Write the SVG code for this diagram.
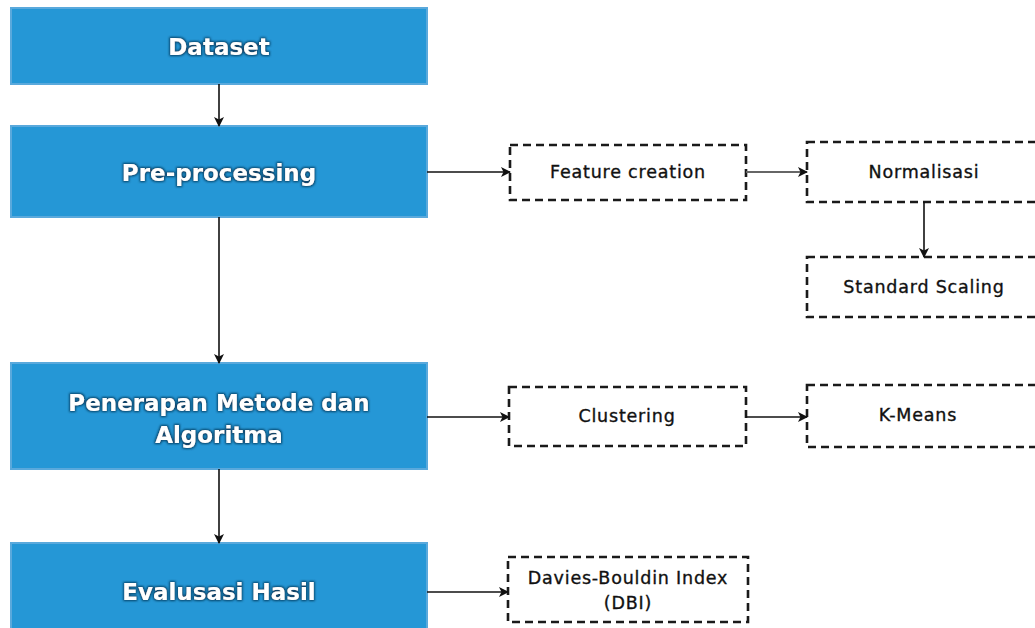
<svg xmlns="http://www.w3.org/2000/svg" width="1035" height="628" viewBox="0 0 1035 628">
  <defs>
    <marker id="arrow" viewBox="0 0 10 10" refX="9" refY="5" markerWidth="10" markerHeight="10" markerUnits="userSpaceOnUse" orient="auto">
      <path d="M0,0 L10,5 L0,10 L2.5,5 Z" fill="#111"/>
    </marker>
    <filter id="glow" x="-10%" y="-30%" width="120%" height="160%">
      <feMorphology in="SourceAlpha" operator="dilate" radius="1" result="thick"/>
      <feGaussianBlur in="thick" stdDeviation="1.2" result="blur"/>
      <feFlood flood-color="#0a3a5c" flood-opacity="0.9"/>
      <feComposite in2="blur" operator="in" result="shadow"/>
      <feMerge>
        <feMergeNode in="shadow"/>
        <feMergeNode in="SourceGraphic"/>
      </feMerge>
    </filter>
  </defs>
  <style>
    .main rect { fill: #2597d6; stroke: #5aa9dc; stroke-width: 2; }
    .main text { fill: #ffffff; font-family: "DejaVu Sans", "Liberation Sans", sans-serif; font-weight: bold; font-size: 23px; text-anchor: middle; filter: url(#glow); }
    .sub .dash { fill: #ffffff; stroke: #1a1a1a; stroke-width: 2.6; stroke-dasharray: 8 5; }
    .sub text { fill: #111111; stroke: #111111; stroke-width: 0.35; font-family: "DejaVu Sans", "Liberation Sans", sans-serif; font-size: 17.5px; letter-spacing: 0.8px; text-anchor: middle; }
    .conn line { stroke: #111; stroke-width: 1.6; marker-end: url(#arrow); }
  </style>

  <rect width="1035" height="628" fill="#ffffff"/>

  <!-- process steps -->
  <g id="dataset" class="main">
    <rect x="11" y="8" width="416" height="76"/>
    <text x="219" y="55">Dataset</text>
  </g>
  <g id="preprocessing" class="main">
    <rect x="11" y="126" width="416" height="91"/>
    <text x="219" y="181">Pre-processing</text>
  </g>
  <g id="penerapan" class="main">
    <rect x="11" y="363" width="416" height="106"/>
    <text x="219" y="411">Penerapan Metode dan</text>
    <text x="219" y="443">Algoritma</text>
  </g>
  <g id="evaluasi" class="main">
    <rect x="11" y="543" width="416" height="100"/>
    <text x="219" y="600">Evalusasi Hasil</text>
  </g>

  <!-- detail boxes -->
  <g id="feature-creation" class="sub">
    <rect class="dash" x="510" y="145" width="236" height="55"/>
    <text x="628" y="178">Feature creation</text>
  </g>
  <g id="normalisasi" class="sub">
    <rect class="dash" x="807" y="142" width="240" height="60"/>
    <text x="924" y="178">Normalisasi</text>
  </g>
  <g id="standard-scaling" class="sub">
    <rect class="dash" x="807" y="257" width="240" height="60"/>
    <text x="924" y="293">Standard Scaling</text>
  </g>
  <g id="clustering" class="sub">
    <rect class="dash" x="509" y="387" width="237" height="59"/>
    <text x="627" y="422">Clustering</text>
  </g>
  <g id="k-means" class="sub">
    <rect class="dash" x="807" y="385" width="240" height="62"/>
    <text x="918" y="421">K-Means</text>
  </g>
  <g id="dbi" class="sub">
    <rect class="dash" x="508" y="557" width="240" height="65"/>
    <text x="628" y="584">Davies-Bouldin Index</text>
    <text x="628" y="609">(DBI)</text>
  </g>

  <!-- connectors -->
  <g id="connectors" class="conn">
    <line x1="219" y1="84" x2="219" y2="126"/>
    <line x1="219" y1="217" x2="219" y2="363"/>
    <line x1="219" y1="469" x2="219" y2="543"/>
    <line x1="427" y1="172" x2="510" y2="172"/>
    <line x1="746" y1="172" x2="807" y2="172" style="stroke:#666;stroke-width:2.2"/>
    <line x1="924" y1="202" x2="924" y2="257"/>
    <line x1="427" y1="417" x2="509" y2="417"/>
    <line x1="746" y1="417" x2="807" y2="417"/>
    <line x1="427" y1="592" x2="508" y2="592"/>
  </g>
</svg>
